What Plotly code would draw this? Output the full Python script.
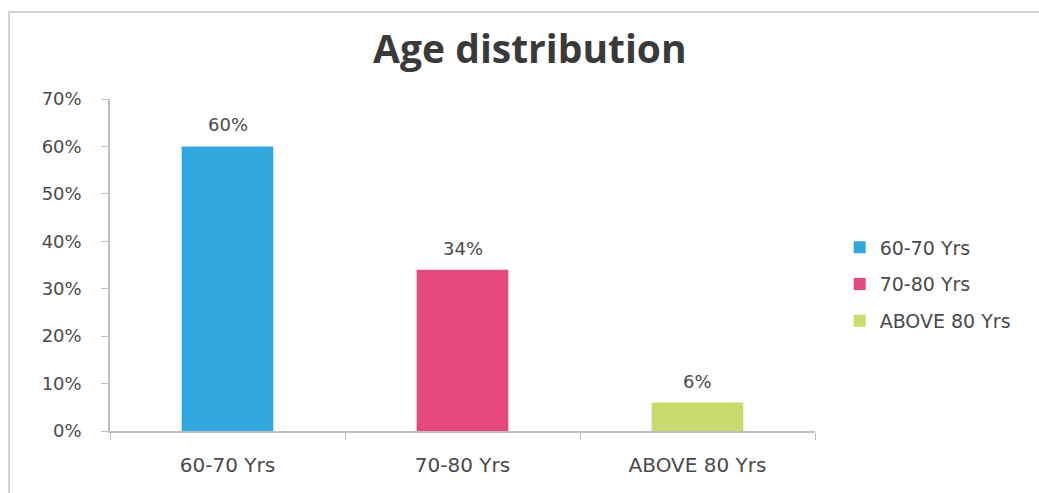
import plotly.graph_objects as go

categories = ["60-70 Yrs", "70-80 Yrs", "ABOVE 80 Yrs"]
values = [0.60, 0.34, 0.06]
labels = ["60%", "34%", "6%"]
colors = ["#31A6DF", "#E64A7C", "#C8DB6C"]
yticks = [0, 0.1, 0.2, 0.3, 0.4, 0.5, 0.6, 0.7]
yticktext = ["0%", "10%", "20%", "30%", "40%", "50%", "60%", "70%"]

FONT = "DejaVu Sans"
TXT = "#4A4A4A"

fig = go.Figure()
for i, (c, v, col) in enumerate(zip(categories, values, colors)):
    fig.add_trace(go.Bar(
        x=[c], y=[v], name=c, marker=dict(color=col, line=dict(width=0)),
        width=0.39, legendgroup=f"g{i}", hoverinfo="skip",
    ))
    fig.add_annotation(x=c, y=v, text=labels[i], showarrow=False,
                       yanchor="bottom", yshift=9,
                       font=dict(family=FONT, size=18, color=TXT))

axis_col = "#BFBFBF"
fig.update_layout(
    width=1039, height=493,
    margin=dict(l=110, r=224, t=99, b=62),
    paper_bgcolor="white", plot_bgcolor="white",
    barmode="overlay",
    title=dict(text="<b>Age distribution</b>", x=0.51, xanchor="center",
               y=0.9, yanchor="middle", yref="container",
               font=dict(family="Open Sans", size=39, color="#3A3A3A")),
    legend=dict(x=1.035, xanchor="left", y=0.61, yanchor="top",
                font=dict(family=FONT, size=19, color=TXT),
                tracegroupgap=9, itemwidth=30, bgcolor="rgba(0,0,0,0)"),
    xaxis=dict(type="category", categoryorder="array", categoryarray=categories,
               showline=True, linecolor=axis_col, linewidth=1.5,
               ticks="outside", tickson="boundaries", ticklen=7, tickcolor=axis_col,
               showgrid=False, ticklabelstandoff=15,
               tickfont=dict(family=FONT, size=20, color=TXT)),
    yaxis=dict(range=[0, 0.7], tickvals=yticks, ticktext=yticktext,
               showline=True, linecolor=axis_col, linewidth=1.5,
               ticks="outside", ticklen=7, tickcolor=axis_col,
               showgrid=False, zeroline=False, ticklabelstandoff=16,
               tickfont=dict(family=FONT, size=18, color=TXT)),
    shapes=[dict(type="rect", xref="paper", yref="paper",
                 x0=-101 / 705, x1=1.4, y0=-0.5, y1=(431 - 12) / 332,
                 line=dict(color="#D0D4DA", width=2),
                 fillcolor="rgba(0,0,0,0)", layer="below")],
)
fig.write_html("out.html")
